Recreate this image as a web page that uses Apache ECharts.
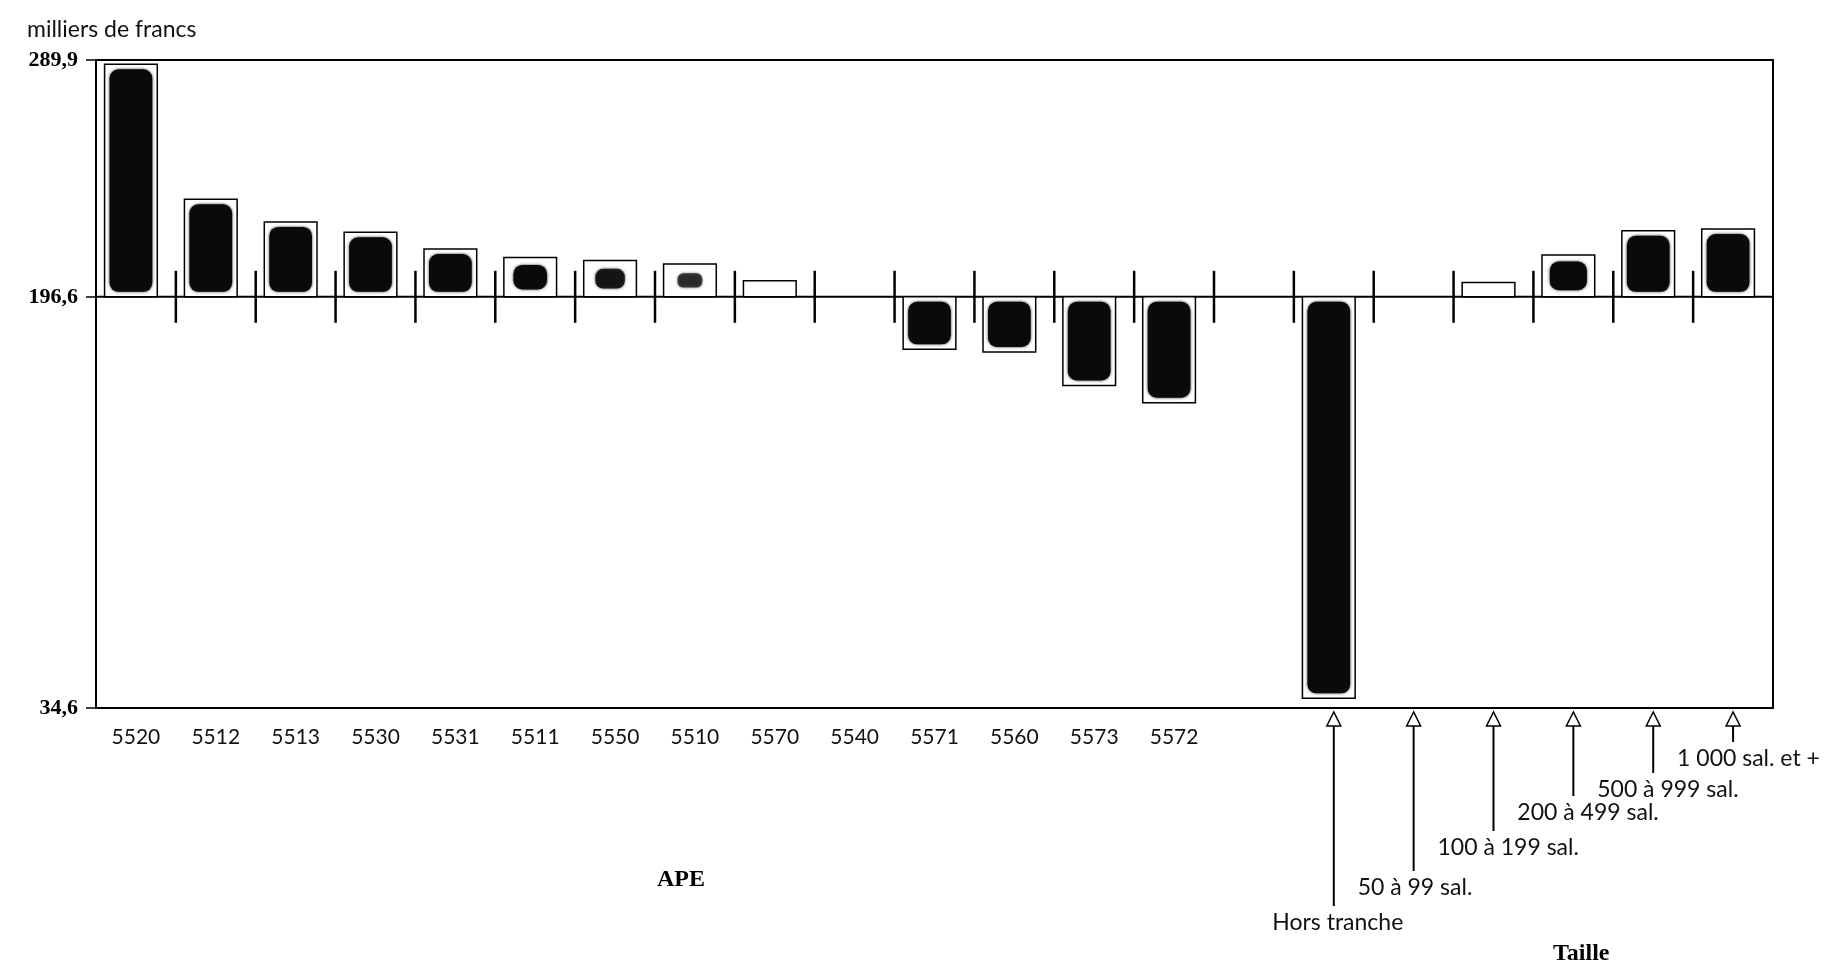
<!DOCTYPE html>
<html>
<head>
<meta charset="utf-8">
<title>milliers de francs</title>
<script src="https://cdn.jsdelivr.net/npm/echarts@6/dist/echarts.min.js"></script>
<style>
  html, body { margin: 0; padding: 0; background: #fff; }
  #main { width: 1846px; height: 974px; }
</style>
</head>
<body>
<div id="main"></div>
<script>
// codes APE, dans l'ordre du graphique
const apeCodes = ['5520', '5512', '5513', '5530', '5531', '5511', '5550', '5510', '5570', '5540', '5571', '5560', '5573', '5572']
const apeValues = [288.2, 235.0, 226.1, 222.0, 215.4, 212.1, 210.9, 209.5, 202.9, 196.6, 175.9, 174.9, 161.7, 154.9]
// tranches de taille
const sizeClasses = ['Hors tranche', '50 à 99 sal.', '100 à 199 sal.', '200 à 499 sal.', '500 à 999 sal.', '1 000 sal. et +']
const sizeValues = [38.4, 196.6, 202.2, 213.1, 222.6, 223.3]
// graduations de l'axe vertical
const yTicks = [34.6, 196.6, 289.9]
const baseValue = 196.6

const categories = [...apeCodes, '', ...sizeClasses]
const allValues = [...apeValues, null, ...sizeValues]
const yMin = yTicks[0]
const yMax = yTicks[yTicks.length - 1]

// longueur des traits de rappel sous l'axe (px)
const leaderLengths = [198, 163, 123, 88, 65, 34]

const textFont = 'Lato, "Open Sans", sans-serif'
const boldFont = '"Liberation Serif", "DejaVu Serif", serif'

function renderBar(params, api) {
  const idx = api.value(0)
  const v = api.value(1)
  const base = api.coord([idx, baseValue])
  const band = api.size([1, 0])[0]
  const cx = base[0] - 5
  const children = []

  // ligne de référence
  children.push({
    type: 'line',
    shape: { x1: base[0] - band / 2, y1: base[1], x2: base[0] + band / 2, y2: base[1] },
    style: { stroke: '#000', lineWidth: 2 }
  })
  // repère entre catégories
  if (idx > 0) {
    children.push({
      type: 'line',
      shape: { x1: base[0] - band / 2, y1: base[1] - 26, x2: base[0] - band / 2, y2: base[1] + 26 },
      style: { stroke: '#000', lineWidth: 2.5 }
    })
  }
  if (v !== baseValue) {
    const top = api.coord([idx, v])
    const w = band * 0.66
    const h = Math.abs(top[1] - base[1])
    const y0 = Math.min(top[1], base[1])
    children.push({
      type: 'rect',
      shape: { x: cx - w / 2, y: y0, width: w, height: h },
      style: { fill: '#fff', stroke: '#000', lineWidth: 1.5 }
    })
    // tache d'encre
    const t = Math.max(0, Math.min(1, (h - 24) / 22))
    if (t > 0) {
      const bw = (w - 10) * (0.3 + 0.7 * t)
      const bh = (h - 10) * Math.sqrt(t)
      const r = Math.min(9, bw / 2.5, bh / 2.5)
      children.push({
        type: 'rect',
        shape: { x: cx - bw / 2, y: y0 + (h - bh) / 2, width: bw, height: bh, r: r },
        style: {
          fill: '#0a0a0a',
          opacity: Math.min(1, 0.3 + t),
          shadowBlur: 3,
          shadowColor: 'rgba(0,0,0,0.8)'
        }
      })
    }
  }
  return { type: 'group', children: children }
}

function renderSize(params, api) {
  const idx = api.value(0)
  const k = api.value(2)
  const p = api.coord([idx, yMin])
  const x = p[0]
  const y = p[1]
  const end = y + leaderLengths[k]
  const children = [
    {
      type: 'polygon',
      shape: { points: [[x, y + 4], [x - 7, y + 18], [x + 7, y + 18]] },
      style: { fill: '#fff', stroke: '#000', lineWidth: 1.5 }
    },
    {
      type: 'line',
      shape: { x1: x, y1: y + 18, x2: x, y2: end },
      style: { stroke: '#000', lineWidth: 2 }
    },
    {
      type: 'text',
      style: {
        text: sizeClasses[k],
        x: k === 0 ? x + 4 : x - 56,
        y: end + 17,
        align: k === 0 ? 'center' : 'left',
        verticalAlign: 'middle',
        font: '23px ' + textFont,
        fill: '#111'
      }
    }
  ]
  return { type: 'group', children: children }
}

const chart = echarts.init(document.getElementById('main'))
const option = {
  animation: false,
  backgroundColor: '#fff',
  title: {
    text: 'milliers de francs',
    left: 22,
    top: 13,
    textStyle: { fontFamily: textFont, fontSize: 23, fontWeight: 'normal', color: '#111' }
  },
  grid: {
    left: 96,
    right: 73,
    top: 60,
    bottom: 266,
    show: true,
    borderColor: '#000',
    borderWidth: 2,
    backgroundColor: 'transparent'
  },
  xAxis: {
    type: 'category',
    data: categories,
    axisLine: { lineStyle: { color: '#000', width: 2 } },
    axisTick: { interval: 0, length: 18, lineStyle: { color: '#000', width: 2.5 } },
    axisLabel: {
      interval: 0,
      margin: 19,
      color: '#111',
      fontFamily: textFont,
      fontSize: 21,
      formatter: (v, i) => (i < apeCodes.length ? v : '')
    },
    splitLine: { show: false }
  },
  yAxis: {
    type: 'value',
    min: yMin,
    max: yMax,
    axisLine: { show: true, lineStyle: { color: '#000', width: 2 } },
    axisTick: { show: true, customValues: yTicks, length: 10, lineStyle: { color: '#000', width: 1.5 } },
    axisLabel: {
      customValues: yTicks,
      margin: 18,
      color: '#000',
      fontFamily: boldFont,
      fontWeight: 'bold',
      fontSize: 22,
      formatter: v => String(v).replace('.', ',')
    },
    splitLine: { show: false }
  },
  graphic: [
    {
      type: 'text',
      left: 683 - 26,
      top: 868,
      style: { text: 'APE', font: 'bold 24px ' + boldFont, fill: '#000' }
    },
    {
      type: 'text',
      left: 1583 - 30,
      top: 942,
      style: { text: 'Taille', font: 'bold 24px ' + boldFont, fill: '#000' }
    }
  ],
  series: [
    {
      name: 'écart',
      type: 'custom',
      clip: false,
      renderItem: renderBar,
      encode: { x: 0, y: 1 },
      data: allValues.map((v, i) => [i, v == null ? baseValue : v])
    },
    {
      name: 'taille',
      type: 'custom',
      clip: false,
      silent: true,
      renderItem: renderSize,
      encode: { x: 0, y: 1 },
      data: sizeClasses.map((name, k) => [apeCodes.length + 1 + k, yMin, k])
    }
  ]
}
option && chart.setOption(option)
</script>
</body>
</html>
